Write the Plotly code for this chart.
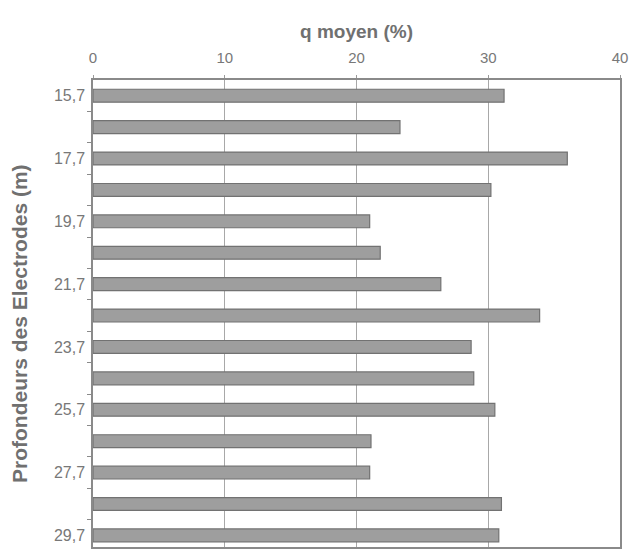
import plotly.graph_objects as go

depths = [15.7, 16.7, 17.7, 18.7, 19.7, 20.7, 21.7, 22.7, 23.7, 24.7, 25.7, 26.7, 27.7, 28.7, 29.7]
q_moyen = [31.2, 23.3, 36.0, 30.2, 21.0, 21.8, 26.4, 33.9, 28.7, 28.9, 30.5, 21.1, 21.0, 31.0, 30.8]
y_tickvals = [15.7, 17.7, 19.7, 21.7, 23.7, 25.7, 27.7, 29.7]
y_ticktext = ["15,7", "17,7", "19,7", "21,7", "23,7", "25,7", "27,7", "29,7"]
x_tickvals = [0, 10, 20, 30, 40]
boundaries = [d + 0.5 for d in depths[:-1]]

fig = go.Figure()
fig.add_trace(go.Bar(
    x=q_moyen, y=depths, orientation="h", width=0.41,
    marker=dict(color="#9e9e9e", line=dict(color="#727272", width=1.2)),
))

fig.update_layout(
    width=630, height=549,
    margin=dict(l=93, r=10, t=80, b=0),
    paper_bgcolor="white", plot_bgcolor="white",
    showlegend=False,
    font=dict(family="Liberation Sans, Arial", color="#707070"),
)
fig.update_xaxes(
    side="top", range=[0, 40], tickvals=x_tickvals,
    showgrid=True, gridcolor="#a8a8a8", gridwidth=1,
    showline=True, linecolor="#8a8a8a", linewidth=1.5, mirror=True,
    ticks="outside", ticklen=3, tickcolor="#9a9a9a",
    ticklabelstandoff=6,
    tickfont=dict(size=15, color="#787878"),
    title=dict(text="<b>q moyen (%)</b>", font=dict(size=19, color="#707070"), standoff=6),
    zeroline=False,
)
fig.update_yaxes(
    range=[29.7 + 0.5 - 0.13, 15.2],
    tickvals=y_tickvals, ticktext=y_ticktext, ticks="",
    showgrid=False, zeroline=False,
    showline=True, linecolor="#8a8a8a", linewidth=1.5, mirror=True,
    tickfont=dict(size=16, color="#787878"),
    ticklabelstandoff=3,
    minor=dict(tickmode="array", tickvals=boundaries, ticks="outside", ticklen=4, tickcolor="#8a8a8a", showgrid=False),
)
fig.add_annotation(
    text="<b>Profondeurs des Electrodes (m)</b>", textangle=-90,
    xref="paper", yref="paper", x=0, y=(549 - 325) / 469,
    xanchor="center", yanchor="middle", xshift=-73, showarrow=False,
    font=dict(size=21, color="#707070"),
)

fig.write_html(
    "out.html",
    config={"displayModeBar": False},
    post_script="document.body.style.margin='0';document.body.style.overflow='hidden';",
)
